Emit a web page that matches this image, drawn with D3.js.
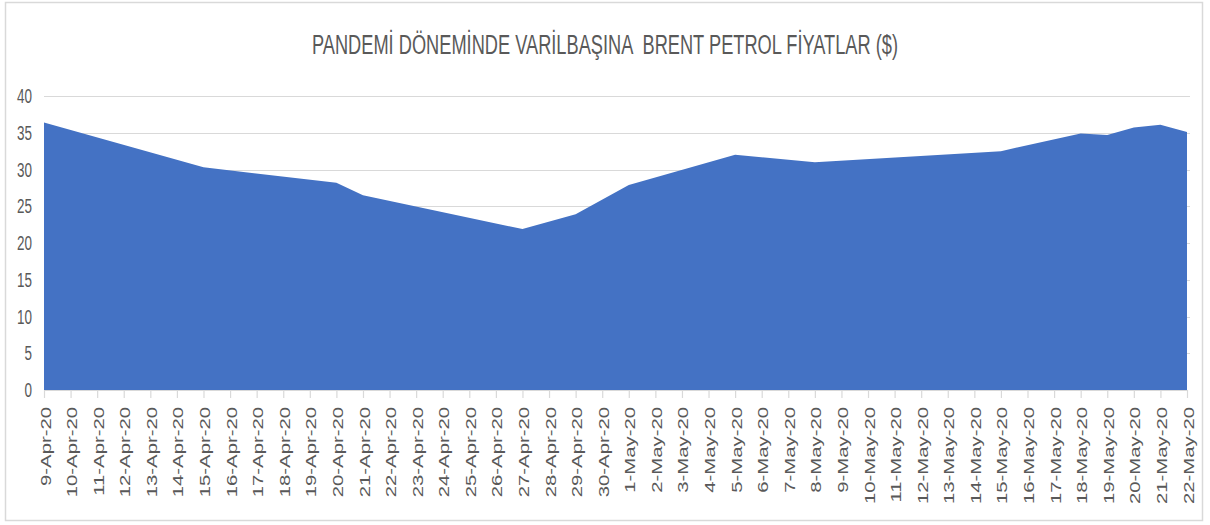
<!DOCTYPE html>
<html>
<head>
<meta charset="utf-8">
<script src="https://cdn.jsdelivr.net/npm/d3@7"></script>
<style>
  html, body { margin: 0; padding: 0; background: #fff; }
  svg { display: block; }
</style>
</head>
<body>
<svg id="chart" width="1210" height="525"></svg>
<script>
const titleText = "PANDEMİ DÖNEMİNDE VARİLBAŞINA  BRENT PETROL FİYATLAR ($)";
const dates = ["2020-04-09","2020-04-15","2020-04-20","2020-04-21","2020-04-27","2020-04-29",
               "2020-05-01","2020-05-05","2020-05-08","2020-05-15","2020-05-18","2020-05-19",
               "2020-05-20","2020-05-21","2020-05-22"];
const prices = [36.4, 30.3, 28.2, 26.5, 21.9, 23.9, 27.9, 32.0, 31.0, 32.5, 34.9, 34.7, 35.7, 36.1, 35.1];
const yTicks = [0, 5, 10, 15, 20, 25, 30, 35, 40];
const xStart = "2020-04-09", xEnd = "2020-05-22";

(function () {
const parse = d3.utcParse("%Y-%m-%d");
const fmt = d3.utcFormat("%-d-%b-%y");
const data = dates.map((d, i) => ({ date: parse(d), value: prices[i] }));

const svg = d3.select("#chart");
const pLeft = 44, pRight = 1187, pTop = 96, pBottom = 390;

// outer border
svg.append("rect").attr("x", 5.5).attr("y", 2.5).attr("width", 1197).attr("height", 518)
  .attr("fill", "#fff").attr("stroke", "#d9d9d9").attr("stroke-width", 1.5);

const x = d3.scaleUtc().domain([parse(xStart), parse(xEnd)]).range([pLeft, pRight]);
const y = d3.scaleLinear().domain([0, 40]).range([pBottom, pTop]);

// gridlines
svg.append("g").selectAll("line").data(yTicks.filter(t => t > 0)).join("line")
  .attr("x1", pLeft).attr("x2", pRight + 3)
  .attr("y1", d => Math.round(y(d)) + 0.5).attr("y2", d => Math.round(y(d)) + 0.5)
  .attr("stroke", "#d9d9d9").attr("stroke-width", 1.2);

// area
const area = d3.area().x(d => x(d.date)).y0(y(0)).y1(d => y(d.value));
svg.append("path").datum(data).attr("d", area).attr("fill", "#4472C4");

// x axis
const days = d3.utcDay.range(parse(xStart), d3.utcDay.offset(parse(xEnd), 1));
const xAxis = d3.axisBottom(x).tickValues(days).tickFormat(fmt).tickSize(8).tickSizeOuter(0);
const gx = svg.append("g").attr("transform", `translate(0,${pBottom})`).call(xAxis);
gx.select(".domain").attr("stroke", "#d9d9d9").attr("stroke-width", 1.2);
gx.selectAll(".tick line").attr("stroke", "#d9d9d9").attr("stroke-width", 1.2);
gx.selectAll(".tick text")
  .attr("font-family", "'Liberation Sans', Arial, sans-serif")
  .attr("font-size", 14)
  .attr("fill", "#595959")
  .attr("text-anchor", "end")
  .attr("x", 0).attr("y", 0).attr("dy", "0.36em")
  .attr("transform", "translate(1,17) scale(1,1.45) rotate(-90)");

// y axis labels
const gy = svg.append("g");
gy.selectAll("text").data(yTicks).join("text")
  .attr("x", 32).attr("y", d => y(d)).attr("dy", "0.36em")
  .attr("text-anchor", "end")
  .attr("font-family", "'Liberation Sans', Arial, sans-serif")
  .attr("font-size", 19.5)
  .attr("fill", "#595959")
  .text(d => d)
  .each(function () {
    const w = this.getComputedTextLength();
    d3.select(this).attr("textLength", w * 0.69).attr("lengthAdjust", "spacingAndGlyphs");
  });

// title
svg.append("text").attr("x", 605).attr("y", 54).attr("text-anchor", "middle")
  .attr("font-family", "'Liberation Sans', Arial, sans-serif")
  .attr("font-size", 27).attr("fill", "#595959")
  .attr("textLength", 586).attr("lengthAdjust", "spacingAndGlyphs")
  .style("white-space", "pre")
  .text(titleText);
})();
</script>
</body>
</html>
